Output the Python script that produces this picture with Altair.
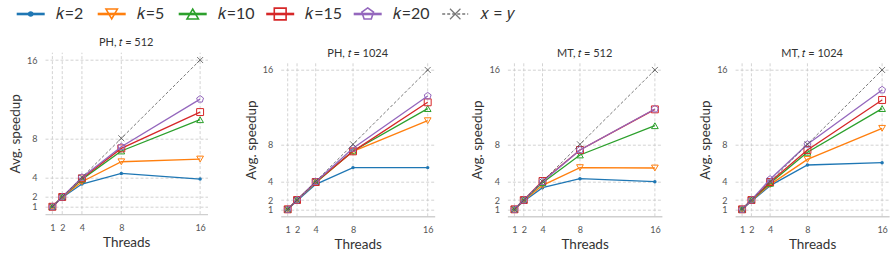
import altair as alt
import pandas as pd

threads = [1, 2, 4, 8, 16]
series = ["k=2", "k=5", "k=10", "k=15", "k=20", "x = y"]
legend_labels = ["𝑘=2", "𝑘=5", "𝑘=10", "𝑘=15", "𝑘=20", "𝑥 = 𝑦"]
panel_titles = ["PH, 𝑡 = 512", "PH, 𝑡 = 1024", "MT, 𝑡 = 512", "MT, 𝑡 = 1024"]

ph512 = [
    [1, 1.96, 3.32, 4.41, 3.83],
    [1, 2.00, 3.56, 5.60, 5.88],
    [1, 2.00, 3.80, 6.70, 9.90],
    [1, 2.00, 3.90, 6.97, 10.68],
    [1, 2.00, 4.00, 7.13, 12.00],
]
ph1024 = [
    [1, 1.93, 3.69, 5.49, 5.49],
    [1, 2.00, 3.87, 7.24, 10.54],
    [1, 2.00, 3.90, 7.28, 11.84],
    [1, 2.00, 3.94, 7.24, 12.52],
    [1, 2.00, 3.98, 7.57, 13.20],
]
mt512 = [
    [1, 1.86, 3.33, 4.30, 3.98],
    [1, 1.95, 3.58, 5.49, 5.45],
    [1, 2.00, 3.87, 6.85, 10.00],
    [1, 2.00, 4.05, 7.39, 11.76],
    [1, 2.00, 3.98, 7.39, 11.80],
]
mt1024 = [
    [1, 1.86, 3.55, 5.77, 6.02],
    [1, 1.95, 3.66, 6.38, 9.72],
    [1, 2.00, 3.80, 7.14, 11.84],
    [1, 2.00, 3.94, 7.39, 12.77],
    [1, 2.00, 4.23, 8.00, 13.85],
]
ideal = [1, 2, 4, 8, 16]

colors = ["#1f77b4", "#ff7f0e", "#2ca02c", "#d62728", "#9467bd", "#555555"]
PENTAGON = "M0,-1L0.951,-0.309L0.588,0.809L-0.588,0.809L-0.951,-0.309Z"
XMARK = "M-1,-1L1,1M-1,1L1,-1"
shapes = ["circle", "triangle-down", "triangle-up", "square", PENTAGON, XMARK]
filled = [True, False, False, False, False, False]
plot_sizes = [12, 45, 45, 48, 52, 36]
legend_sizes = [30, 130, 130, 140, 150, 110]

FONT = "Lato"
DOMAIN = [0.25, 16.75]
GRID = "#c8c8c8"


def panel(values, title, w, h, top):
    rows = []
    for s, vals in zip(series, values + [ideal]):
        for t, v in zip(threads, vals):
            rows.append({"series": s, "threads": t, "speedup": v})
    df = pd.DataFrame(rows)
    x = alt.X("threads:Q", scale=alt.Scale(domain=DOMAIN, nice=False, zero=False),
              axis=alt.Axis(values=threads, title="Threads", grid=False, ticks=False,
                            domainColor="#cfcfcf", domainWidth=1.4, labelPadding=9,
                            titlePadding=3))
    y = alt.Y("speedup:Q", scale=alt.Scale(domain=DOMAIN, range=[h, top], nice=False, zero=False),
              axis=alt.Axis(values=threads, title="Avg. speedup", grid=True, ticks=False,
                            gridDash=[3, 2], gridColor=GRID, gridWidth=0.8,
                            domain=False, labelPadding=8, titlePadding=4))
    grid_df = pd.DataFrame({"threads": threads})
    vgrid = alt.Chart(grid_df).mark_rule(color=GRID, strokeWidth=0.8, strokeDash=[3, 2]).encode(
        x=x, y=alt.datum(DOMAIN[0]), y2=alt.datum(DOMAIN[1]))
    layers = [vgrid]
    for i, s in enumerate(series):
        sub = alt.Chart(df).transform_filter(alt.datum.series == s)
        if s == "x = y":
            line = sub.mark_line(color=colors[i], strokeWidth=0.8, strokeDash=[3, 2])
        else:
            line = sub.mark_line(color=colors[i], strokeWidth=1.3)
        pt = sub.mark_point(shape=shapes[i], filled=filled[i], size=plot_sizes[i],
                            color=colors[i], strokeWidth=1.0 if s != "x = y" else 0.8,
                            opacity=1)
        layers.append(line.encode(x=x, y=y))
        layers.append(pt.encode(x=x, y=y))
    return alt.layer(*layers).properties(
        width=w, height=h, title=alt.TitleParams(title, offset=4 - top))


# legend layout: handle centres derived from label lengths (matplotlib-like columns)
LEGEND_ORIGIN = 44.3
lens = [len(s) for s in series[:-1]]
centres = [30.0]
for L in lens:
    centres.append(centres[-1] + 61.5 + 6.5 * L)
leg_df = pd.DataFrame({"series": series, "label": legend_labels,
                       "pos": [c - LEGEND_ORIGIN for c in centres]})
LW = 500
lx = alt.X("pos:Q", scale=alt.Scale(domain=[0, LW], range=[0, LW], nice=False, zero=False), axis=None)
leg_layers = []
for i, s in enumerate(series):
    sub = alt.Chart(leg_df).transform_filter(alt.datum.series == s)
    if s == "x = y":
        rule = sub.mark_rule(color="#777777", strokeWidth=1.3, strokeDash=[3, 2],
                             xOffset=-13, x2Offset=13)
    else:
        rule = sub.mark_rule(color=colors[i], strokeWidth=2.6, xOffset=-14, x2Offset=14)
    leg_layers.append(rule.encode(x=lx, x2="pos:Q", y=alt.value(14)))
    leg_layers.append(sub.mark_point(shape=shapes[i], filled=filled[i], size=legend_sizes[i],
                                     color=colors[i] if s != "x = y" else "#777777",
                                     strokeWidth=1.6 if s != "x = y" else 1.2, opacity=1)
                      .encode(x=lx, y=alt.value(14)))
    leg_layers.append(sub.mark_text(align="left", baseline="middle", dx=25, fontSize=16,
                                    font=FONT, color="#333333")
                      .encode(x=lx, y=alt.value(14), text="label:N"))
legend = alt.layer(*leg_layers).properties(width=LW, height=28)

p1 = panel(ph512, panel_titles[0], 162.5, 161.4, 0)
p2 = panel(ph1024, panel_titles[1], 154, 163.6, 10.3)
p3 = panel(mt512, panel_titles[2], 154.5, 163.6, 10.3)
p4 = panel(mt1024, panel_titles[3], 154, 163.6, 10.3)

row = alt.hconcat(p1, p2, p3, p4, spacing=72.7, bounds="flush")

chart = alt.vconcat(legend, row, spacing=24.7, bounds="flush").properties(
    padding={"left": 8, "top": 0, "right": 0, "bottom": 0}
).configure_view(strokeWidth=0).configure_axis(
    labelFont=FONT, titleFont=FONT, labelFontSize=9, labelColor="#555555",
    titleFontSize=13.5, titleColor="#333333", titleFontWeight="normal"
).configure_title(
    font=FONT, fontSize=11, fontWeight="normal", color="#333333", anchor="middle"
)

chart.save("out.html", embed_options={"renderer": "svg", "actions": False})
